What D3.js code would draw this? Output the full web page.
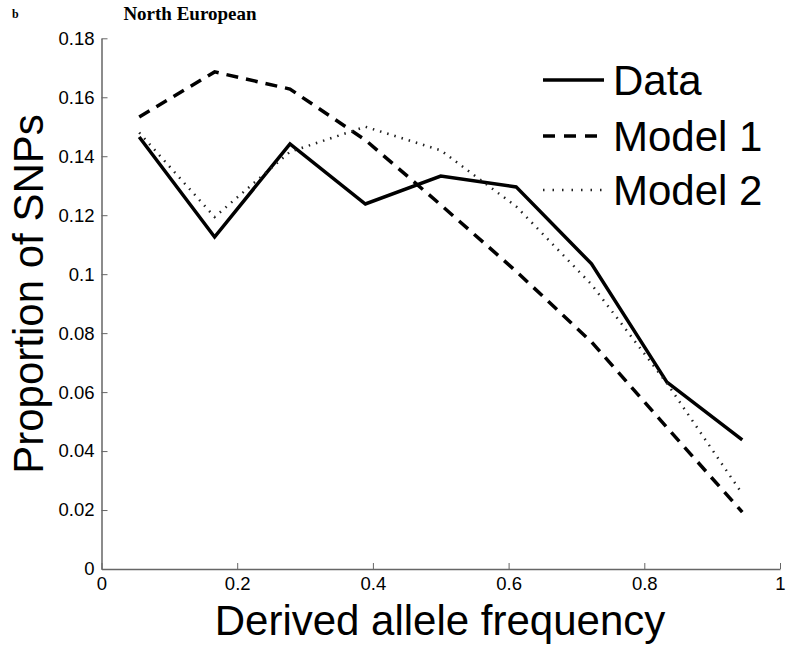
<!DOCTYPE html>
<html><head><meta charset="utf-8">
<script src="https://cdn.jsdelivr.net/npm/d3@7"></script>
<style>body{margin:0;background:#fff}svg{display:block}</style>
</head><body>
<svg id="c" width="787" height="645"></svg>
<script>
const binCenters = [0.0556,0.1667,0.2778,0.3889,0.5,0.6111,0.7222,0.8333,0.9444];
const dataVals   = [0.1465,0.1126,0.1442,0.1238,0.1333,0.1296,0.1035,0.0634,0.0438];
const model1Vals = [0.1533,0.1686,0.1628,0.1455,0.1235,0.1010,0.0770,0.0480,0.0193];
const model2Vals = [0.1480,0.1194,0.1415,0.1500,0.1420,0.1230,0.0965,0.0630,0.0255];
const xTicks = [0,0.2,0.4,0.6,0.8,1];
const yTicks = [0,0.02,0.04,0.06,0.08,0.1,0.12,0.14,0.16,0.18];
const seriesNames = ["Data","Model 1","Model 2"];

const svg = d3.select("#c");
const x = d3.scaleLinear().domain([0,1]).range([101.5,780]);
const y = d3.scaleLinear().domain([0,0.18]).range([569,38.3]);
const axisColor = "#666";
const sans = "'Liberation Sans', Arial, Helvetica, sans-serif";

// axes
const gx = svg.append("g").attr("transform","translate(0,"+y(0)+")")
  .call(d3.axisBottom(x).tickValues(xTicks).tickSizeInner(-6).tickSizeOuter(0).tickPadding(8)
    .tickFormat(d=>d===0?"0":d===1?"1":d3.format("")(d)));
const gy = svg.append("g").attr("transform","translate("+x(0)+",0)")
  .call(d3.axisLeft(y).tickValues(yTicks).tickSizeInner(-6).tickSizeOuter(0).tickPadding(7)
    .tickFormat(d=>d===0?"0":String(+d.toFixed(2))));
[gx,gy].forEach(g=>{
  g.select(".domain").attr("stroke",axisColor).attr("stroke-width",1.5);
  g.selectAll(".tick line").attr("stroke",axisColor).attr("stroke-width",1);
  g.selectAll(".tick text").attr("fill","#000").style("font-family",sans).style("font-size","18.5px");
});
gx.selectAll(".tick text").attr("dy","0.71em");

// lines
const line = d3.line().x((d,i)=>x(binCenters[i])).y(d=>y(d));
const styles = [
  {vals:dataVals, dash:null, w:3.5, color:"#000"},
  {vals:model1Vals, dash:"12,8", w:3.5, color:"#000"},
  {vals:model2Vals, dash:"1.5,6", w:2.5, color:"#222"}
];
styles.forEach(s=>{
  svg.append("path").datum(s.vals).attr("d",line).attr("fill","none")
    .attr("stroke",s.color).attr("stroke-width",s.w)
    .attr("stroke-dasharray",s.dash).attr("stroke-linejoin","miter");
});

// legend
const legY = [80,136,190];
const legStyles = [
  {dash:null,w:3.5,color:"#000"},
  {dash:"12,9",w:3.5,color:"#000"},
  {dash:"1.5,8",w:2.5,color:"#222"}
];
seriesNames.forEach((n,i)=>{
  svg.append("line").attr("x1",543).attr("x2",604).attr("y1",legY[i]).attr("y2",legY[i])
    .attr("stroke",legStyles[i].color).attr("stroke-width",legStyles[i].w)
    .attr("stroke-dasharray",legStyles[i].dash);
  svg.append("text").attr("x",613).attr("y",legY[i]+15).text(n)
    .style("font-family",sans).style("font-size","42px").attr("fill","#000");
});

// axis labels
svg.append("text").attr("x",440).attr("y",635).attr("text-anchor","middle")
  .text("Derived allele frequency").style("font-family",sans).style("font-size","42px");
svg.append("text").attr("transform","translate(43,294) rotate(-90)").attr("text-anchor","middle")
  .text("Proportion of SNPs").style("font-family",sans).style("font-size","42px");

// title and panel label
svg.append("text").attr("x",190).attr("y",20).attr("text-anchor","middle")
  .text("North European").style("font-family","'Liberation Serif', 'Times New Roman', serif")
  .style("font-weight","bold").style("font-size","19px");
svg.append("text").attr("x",12).attr("y",18).text("b")
  .style("font-family","'Liberation Serif', 'Times New Roman', serif")
  .style("font-weight","bold").style("font-size","12px");
</script>
</body></html>
